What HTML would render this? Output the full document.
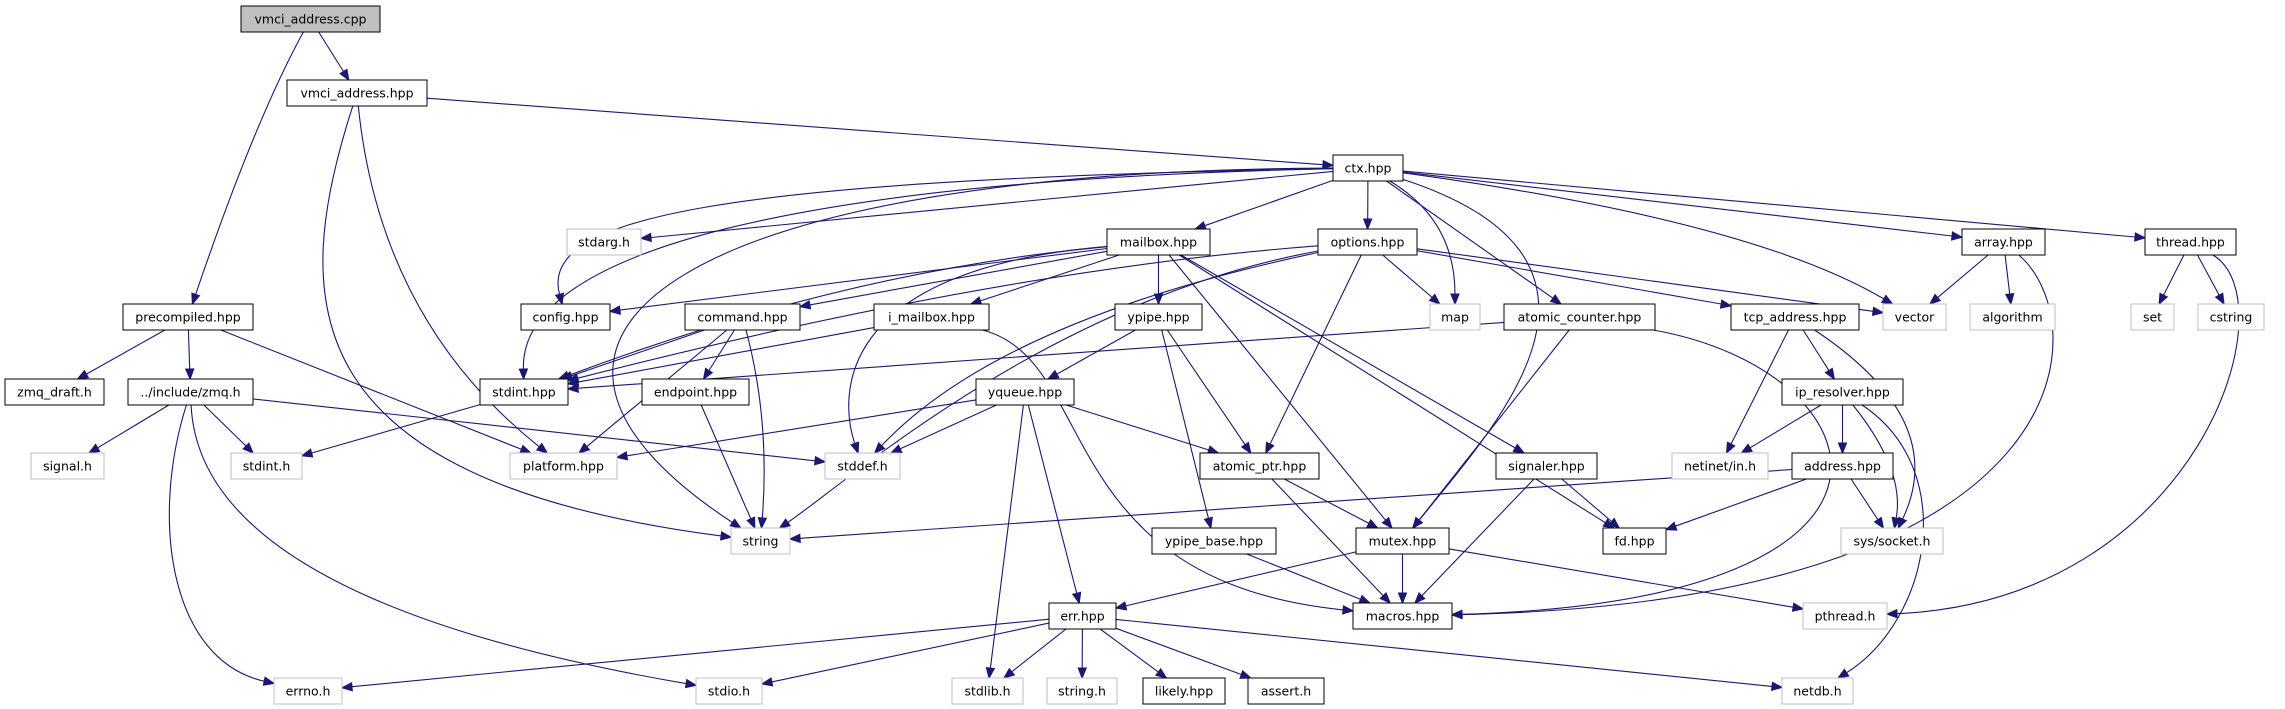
<!DOCTYPE html>
<html><head><meta charset="utf-8">
<style>
html,body{margin:0;padding:0;background:#fff;}
svg{display:block;}
text{font-family:"DejaVu Sans","Liberation Sans",sans-serif;font-size:12.5px;fill:#000;}
</style></head>
<body>
<svg id="g" width="2285" height="709" viewBox="0 0 2285 709" xmlns="http://www.w3.org/2000/svg">
<g id="edges" fill="none" stroke="#191970" stroke-width="1.1"></g>
<g id="nodes">
<rect x="241" y="6" width="139" height="26" fill="#bfbfbf" stroke="#000"/><text x="310.5" y="23.5" text-anchor="middle">vmci_address.cpp</text>
<rect x="287" y="80" width="140" height="26" fill="#fff" stroke="#000"/><text x="357" y="97.5" text-anchor="middle">vmci_address.hpp</text>
<rect x="123" y="304" width="130" height="26" fill="#fff" stroke="#000"/><text x="188" y="321.5" text-anchor="middle">precompiled.hpp</text>
<rect x="1333" y="155" width="70" height="26" fill="#fff" stroke="#000"/><text x="1368" y="172.5" text-anchor="middle">ctx.hpp</text>
<rect x="567" y="229" width="74" height="26" fill="#fff" stroke="#bfbfbf"/><text x="604" y="246.5" text-anchor="middle">stdarg.h</text>
<rect x="1107" y="229" width="103" height="26" fill="#fff" stroke="#000"/><text x="1158.5" y="246.5" text-anchor="middle">mailbox.hpp</text>
<rect x="1318" y="229" width="99" height="26" fill="#fff" stroke="#000"/><text x="1367.5" y="246.5" text-anchor="middle">options.hpp</text>
<rect x="1962" y="229" width="83" height="26" fill="#fff" stroke="#000"/><text x="2003.5" y="246.5" text-anchor="middle">array.hpp</text>
<rect x="2145" y="229" width="91" height="26" fill="#fff" stroke="#000"/><text x="2190.5" y="246.5" text-anchor="middle">thread.hpp</text>
<rect x="521" y="304" width="89" height="26" fill="#fff" stroke="#000"/><text x="565.5" y="321.5" text-anchor="middle">config.hpp</text>
<rect x="685" y="304" width="115" height="26" fill="#fff" stroke="#000"/><text x="742.5" y="321.5" text-anchor="middle">command.hpp</text>
<rect x="874" y="304" width="115" height="26" fill="#fff" stroke="#000"/><text x="931.5" y="321.5" text-anchor="middle">i_mailbox.hpp</text>
<rect x="1115" y="304" width="87" height="26" fill="#fff" stroke="#000"/><text x="1158.5" y="321.5" text-anchor="middle">ypipe.hpp</text>
<rect x="1430" y="304" width="50" height="26" fill="#fff" stroke="#bfbfbf"/><text x="1455" y="321.5" text-anchor="middle">map</text>
<rect x="1504" y="304" width="151" height="26" fill="#fff" stroke="#000"/><text x="1579.5" y="321.5" text-anchor="middle">atomic_counter.hpp</text>
<rect x="1731" y="304" width="128" height="26" fill="#fff" stroke="#000"/><text x="1795" y="321.5" text-anchor="middle">tcp_address.hpp</text>
<rect x="1883" y="304" width="63" height="26" fill="#fff" stroke="#bfbfbf"/><text x="1914.5" y="321.5" text-anchor="middle">vector</text>
<rect x="1970" y="304" width="85" height="26" fill="#fff" stroke="#bfbfbf"/><text x="2012.5" y="321.5" text-anchor="middle">algorithm</text>
<rect x="2131" y="304" width="43" height="26" fill="#fff" stroke="#bfbfbf"/><text x="2152.5" y="321.5" text-anchor="middle">set</text>
<rect x="2198" y="304" width="66" height="26" fill="#fff" stroke="#bfbfbf"/><text x="2231" y="321.5" text-anchor="middle">cstring</text>
<rect x="5" y="379" width="99" height="26" fill="#fff" stroke="#000"/><text x="54.5" y="396.5" text-anchor="middle">zmq_draft.h</text>
<rect x="128" y="379" width="125" height="26" fill="#fff" stroke="#000"/><text x="190.5" y="396.5" text-anchor="middle">../include/zmq.h</text>
<rect x="480" y="379" width="88" height="26" fill="#fff" stroke="#000"/><text x="524" y="396.5" text-anchor="middle">stdint.hpp</text>
<rect x="642" y="379" width="107" height="26" fill="#fff" stroke="#000"/><text x="695.5" y="396.5" text-anchor="middle">endpoint.hpp</text>
<rect x="976" y="379" width="98" height="26" fill="#fff" stroke="#000"/><text x="1025" y="396.5" text-anchor="middle">yqueue.hpp</text>
<rect x="1782" y="379" width="121" height="26" fill="#fff" stroke="#000"/><text x="1842.5" y="396.5" text-anchor="middle">ip_resolver.hpp</text>
<rect x="31" y="453" width="73" height="26" fill="#fff" stroke="#bfbfbf"/><text x="67.5" y="470.5" text-anchor="middle">signal.h</text>
<rect x="231" y="453" width="71" height="26" fill="#fff" stroke="#bfbfbf"/><text x="266.5" y="470.5" text-anchor="middle">stdint.h</text>
<rect x="510" y="453" width="107" height="26" fill="#fff" stroke="#bfbfbf"/><text x="563.5" y="470.5" text-anchor="middle">platform.hpp</text>
<rect x="825" y="453" width="75" height="26" fill="#fff" stroke="#bfbfbf"/><text x="862.5" y="470.5" text-anchor="middle">stddef.h</text>
<rect x="1200" y="453" width="119" height="26" fill="#fff" stroke="#000"/><text x="1259.5" y="470.5" text-anchor="middle">atomic_ptr.hpp</text>
<rect x="1496" y="453" width="101" height="26" fill="#fff" stroke="#000"/><text x="1546.5" y="470.5" text-anchor="middle">signaler.hpp</text>
<rect x="1672" y="453" width="96" height="26" fill="#fff" stroke="#bfbfbf"/><text x="1720" y="470.5" text-anchor="middle">netinet/in.h</text>
<rect x="1792" y="453" width="101" height="26" fill="#fff" stroke="#000"/><text x="1842.5" y="470.5" text-anchor="middle">address.hpp</text>
<rect x="731" y="528" width="59" height="26" fill="#fff" stroke="#bfbfbf"/><text x="760.5" y="545.5" text-anchor="middle">string</text>
<rect x="1152" y="528" width="124" height="26" fill="#fff" stroke="#000"/><text x="1214" y="545.5" text-anchor="middle">ypipe_base.hpp</text>
<rect x="1356" y="528" width="93" height="26" fill="#fff" stroke="#000"/><text x="1402.5" y="545.5" text-anchor="middle">mutex.hpp</text>
<rect x="1603" y="528" width="63" height="26" fill="#fff" stroke="#000"/><text x="1634.5" y="545.5" text-anchor="middle">fd.hpp</text>
<rect x="1841" y="528" width="102" height="26" fill="#fff" stroke="#bfbfbf"/><text x="1892" y="545.5" text-anchor="middle">sys/socket.h</text>
<rect x="1049" y="603" width="67" height="26" fill="#fff" stroke="#000"/><text x="1082.5" y="620.5" text-anchor="middle">err.hpp</text>
<rect x="1353" y="603" width="99" height="26" fill="#fff" stroke="#000"/><text x="1402.5" y="620.5" text-anchor="middle">macros.hpp</text>
<rect x="1803" y="603" width="84" height="26" fill="#fff" stroke="#bfbfbf"/><text x="1845" y="620.5" text-anchor="middle">pthread.h</text>
<rect x="274" y="678" width="68" height="26" fill="#fff" stroke="#bfbfbf"/><text x="308" y="695.5" text-anchor="middle">errno.h</text>
<rect x="696" y="678" width="66" height="26" fill="#fff" stroke="#bfbfbf"/><text x="729" y="695.5" text-anchor="middle">stdio.h</text>
<rect x="952" y="678" width="71" height="26" fill="#fff" stroke="#bfbfbf"/><text x="987.5" y="695.5" text-anchor="middle">stdlib.h</text>
<rect x="1047" y="678" width="70" height="26" fill="#fff" stroke="#bfbfbf"/><text x="1082" y="695.5" text-anchor="middle">string.h</text>
<rect x="1143" y="678" width="82" height="26" fill="#fff" stroke="#000"/><text x="1184" y="695.5" text-anchor="middle">likely.hpp</text>
<rect x="1248" y="678" width="76" height="26" fill="#fff" stroke="#000"/><text x="1286" y="695.5" text-anchor="middle">assert.h</text>
<rect x="1782" y="678" width="71" height="26" fill="#fff" stroke="#bfbfbf"/><text x="1817.5" y="695.5" text-anchor="middle">netdb.h</text>
</g>
</svg>
<script>
var N={
cpp:[241,6,139],vhpp:[287,80,140],pre:[123,304,130],ctx:[1333,155,70],stdarg:[567,229,74],
mail:[1107,229,103],opt:[1318,229,99],arr:[1962,229,83],thr:[2145,229,91],cfg:[521,304,89],
cmd:[685,304,115],imail:[874,304,115],ypipe:[1115,304,87],map:[1430,304,50],acnt:[1504,304,151],
tcp:[1731,304,128],vec:[1883,304,63],alg:[1970,304,85],set:[2131,304,43],cstr:[2198,304,66],
draft:[5,379,99],zmq:[128,379,125],sint:[480,379,88],endp:[642,379,107],yq:[976,379,98],
ipr:[1782,379,121],sig:[31,453,73],stdinth:[231,453,71],plat:[510,453,107],stddef:[825,453,75],
aptr:[1200,453,119],signl:[1496,453,101],netin:[1672,453,96],addr:[1792,453,101],str:[731,528,59],
ybase:[1152,528,124],mtx:[1356,528,93],fd:[1603,528,63],sock:[1841,528,102],err:[1049,603,67],
mac:[1353,603,99],pth:[1803,603,84],errno:[274,678,68],stdio:[696,678,66],stdlib:[952,678,71],
strh:[1047,678,70],likely:[1143,678,82],assert:[1248,678,76],netdb:[1782,678,71]};
var E=[
['cpp','vhpp'],['cpp','pre',[[255,120]]],['vhpp','ctx'],['vhpp','str',[[290,300],[290,480]]],['vhpp','plat',[[380,320]]],
['pre','draft'],['pre','zmq'],['pre','plat'],
['zmq','sig'],['zmq','stdinth'],['zmq','stddef'],['zmq','errno',[[150,520],[170,660]]],['zmq','stdio',[[200,600]]],
['ctx','stdarg'],['ctx','cfg',[[700,180],[540,220]]],['ctx','sint',[[800,180],[520,250]]],['ctx','str',[[700,170],[440,330]]],
['ctx','mail'],['ctx','opt'],['ctx','map',[[1455,220]]],['ctx','acnt'],['ctx','mtx',[[1650,260],[1500,420]]],
['ctx','vec',[[1750,220]]],['ctx','arr'],['ctx','thr'],
['mail','cfg'],['mail','cmd'],['mail','imail'],['mail','ypipe'],['mail','sint',[[850,270]]],['mail','stddef',[[830,270],[840,400]]],
['mail','signl'],['mail','mtx'],['mail','fd'],
['opt','sint',[[1000,270]]],['opt','str',[[1050,300],[850,480]]],['opt','stddef',[[1000,320]]],['opt','map'],['opt','vec'],['opt','aptr'],['opt','tcp'],
['cmd','sint'],['cmd','endp'],['cmd','plat'],['cmd','str',[[770,420]]],
['imail','sint'],['imail','mac',[[1100,360],[1050,580]]],
['endp','str'],['sint','stdinth'],
['ypipe','yq'],['ypipe','aptr'],['ypipe','ybase'],
['yq','stdlib'],['yq','stddef'],['yq','err'],['yq','aptr'],['yq','plat'],
['acnt','sint'],['acnt','mtx'],['acnt','mac',[[1880,370],[1960,600]]],
['aptr','mtx'],['aptr','mac'],['ybase','mac'],
['mtx','err'],['mtx','mac'],['mtx','pth'],
['signl','fd'],['signl','mac'],
['tcp','ipr'],['tcp','netin'],['tcp','sock',[[1950,420]]],
['ipr','netin'],['ipr','addr'],['ipr','sock',[[1905,470]]],['ipr','netdb',[[1960,470],[1930,620]]],
['addr','str'],['addr','fd'],['addr','sock'],
['arr','vec'],['arr','alg'],['arr','mac',[[2095,320],[2095,600]]],
['thr','set'],['thr','cstr'],['thr','pth',[[2290,300],[2200,600]]],
['err','errno'],['err','stdio'],['err','stdlib'],['err','strh'],['err','likely'],['err','assert'],['err','netdb']
];
function ctr(n){var b=N[n];return [b[0]+b[2]/2,b[1]+13];}
function clip(n,p,q){
 var b=N[n],x0=b[0],y0=b[1],x1=b[0]+b[2],y1=b[1]+26;
 var dx=q[0]-p[0],dy=q[1]-p[1],t=1;
 if(dx>0)t=Math.min(t,(x1-p[0])/dx); if(dx<0)t=Math.min(t,(x0-p[0])/dx);
 if(dy>0)t=Math.min(t,(y1-p[1])/dy); if(dy<0)t=Math.min(t,(y0-p[1])/dy);
 return [p[0]+dx*t,p[1]+dy*t];}
var g=document.getElementById('edges'),out='';
E.forEach(function(e){
 var a=ctr(e[0]),b=ctr(e[1]),c=e[2]||[];
 var nextA=c.length?c[0]:b, prevB=c.length?c[c.length-1]:a;
 var s=clip(e[0],a,nextA), t=clip(e[1],b,prevB);
 var dx=t[0]-prevB[0],dy=t[1]-prevB[1],L=Math.sqrt(dx*dx+dy*dy)||1;dx/=L;dy/=L;
 var bx=t[0]-dx*10,by=t[1]-dy*10;
 var d='M'+s[0].toFixed(1)+','+s[1].toFixed(1);
 if(c.length==1)d+=' Q'+c[0][0]+','+c[0][1]+' '+bx.toFixed(1)+','+by.toFixed(1);
 else if(c.length==2)d+=' C'+c[0][0]+','+c[0][1]+' '+c[1][0]+','+c[1][1]+' '+bx.toFixed(1)+','+by.toFixed(1);
 else d+=' L'+bx.toFixed(1)+','+by.toFixed(1);
 out+='<path d="'+d+'"/>';
 var px=-dy*4,py=dx*4;
 out+='<polygon fill="#191970" points="'+t[0].toFixed(1)+','+t[1].toFixed(1)+' '+(bx+px).toFixed(1)+','+(by+py).toFixed(1)+' '+(bx-px).toFixed(1)+','+(by-py).toFixed(1)+'"/>';
});
g.innerHTML=out;
</script>
</body></html>
